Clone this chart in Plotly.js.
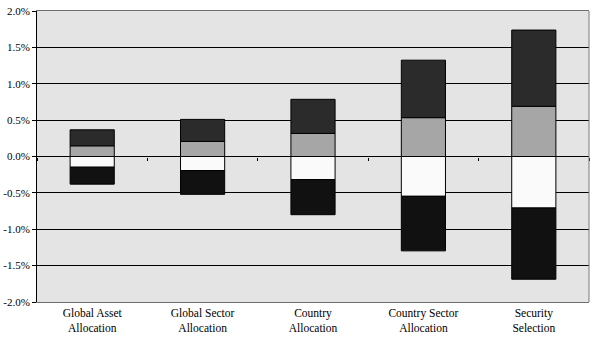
<!DOCTYPE html>
<html>
<head>
<meta charset="utf-8">
<script src="https://cdn.plot.ly/plotly-3.0.1.min.js"></script>
<style>html,body{margin:0;padding:0;background:#fff;}</style>
</head>
<body>
<div id="chart" style="width:600px;height:340px;"></div>
<script>
// Categories
const categories = ['Global Asset<br>Allocation', 'Global Sector<br>Allocation', 'Country<br>Allocation', 'Country Sector<br>Allocation', 'Security<br>Selection'];
// Stacked segment values (in %)
const innerPositive = [0.147, 0.207, 0.317, 0.534, 0.690];
const outerPositive = [0.220, 0.303, 0.469, 0.790, 1.048];
const innerNegative = [-0.147, -0.193, -0.317, -0.547, -0.708];
const outerNegative = [-0.233, -0.327, -0.483, -0.750, -0.979];
// Tick labels
const yTickVals = [-2, -1.5, -1, -0.5, 0, 0.5, 1, 1.5, 2];
const yTickText = ['-2.0%', '-1.5%', '-1.0%', '-0.5%', '0.0%', '0.5%', '1.0%', '1.5%', '2.0%'];

const fontFam = 'Liberation Serif, Times New Roman, serif';
const lineStyle = {color: '#000', width: 1};

function seg(vals, color) {
  return {type: 'bar', x: categories, y: vals, marker: {color: color, line: lineStyle}, hoverinfo: 'skip', showlegend: false};
}

const traces = [
  seg(innerPositive, '#a6a6a6'),
  seg(outerPositive, '#2b2b2b'),
  seg(innerNegative, '#fafafa'),
  seg(outerNegative, '#111111'),
  // empty helper trace so the zero-line category tick axis is drawn
  {type: 'scatter', mode: 'markers', x: [], y: [], xaxis: 'x2', yaxis: 'y', showlegend: false, hoverinfo: 'skip'}
];

const layout = {
  width: 600, height: 340,
  margin: {l: 37, r: 11, t: 11, b: 38, pad: 0},
  paper_bgcolor: '#ffffff',
  plot_bgcolor: '#e4e4e4',
  barmode: 'relative',
  bargap: 0.6,
  showlegend: false,
  font: {family: fontFam, size: 11, color: '#000'},
  xaxis: {
    type: 'category', range: [-0.5, 4.5],
    showgrid: false, zeroline: false,
    showline: true, linecolor: '#6e6e6e', linewidth: 1, mirror: true,
    ticks: '', tickfont: {family: fontFam, size: 11.5, color: '#000'}
  },
  xaxis2: {
    overlaying: 'x', anchor: 'free', position: 0.5,
    type: 'linear', range: [-0.5, 4.5], tick0: 0.5, dtick: 1,
    ticks: 'outside', ticklen: 3, tickcolor: '#000', tickwidth: 1,
    showticklabels: false, showgrid: false, zeroline: false, showline: false
  },
  yaxis: {
    range: [-2, 2], tickvals: yTickVals, ticktext: yTickText,
    showgrid: true, gridcolor: '#000', gridwidth: 1,
    zeroline: true, zerolinecolor: '#000', zerolinewidth: 1,
    showline: true, linecolor: '#000', linewidth: 1,
    ticks: 'outside', ticklen: 4, tickcolor: '#000',
    tickfont: {family: fontFam, size: 11, color: '#000'}
  },
  shapes: [
    {type: 'line', xref: 'paper', yref: 'paper', x0: 1, x1: 1, y0: 0, y1: 1, line: {color: '#7a7a7a', width: 1}}
  ]
};

Plotly.newPlot('chart', traces, layout, {displayModeBar: false, staticPlot: true});
</script>
</body>
</html>
